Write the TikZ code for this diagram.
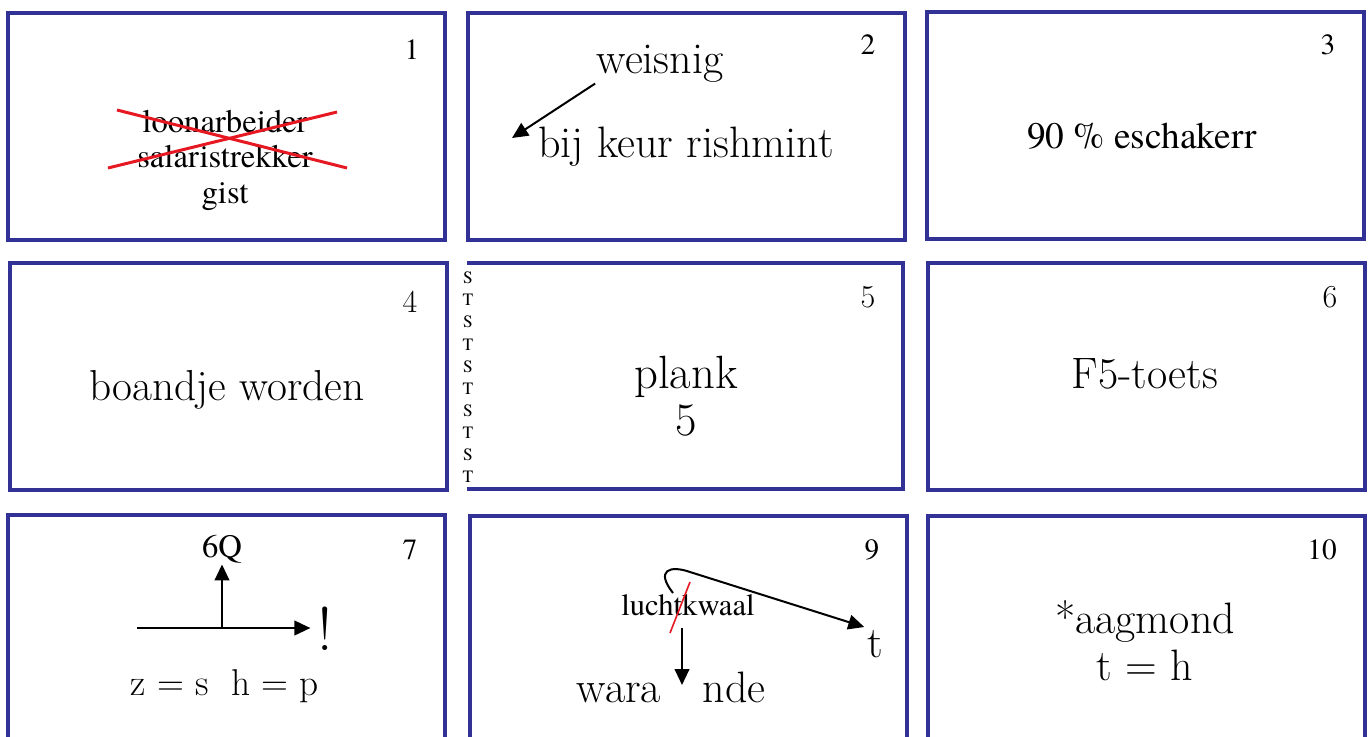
\documentclass[tikz,border=0pt]{standalone}
\usepackage{fontspec}
\usepackage{xcolor}
\usepackage{tikz}
\usetikzlibrary{arrows.meta,positioning,calc}
\newfontfamily\tnr{texgyretermes-regular.otf}
\definecolor{cardblue}{RGB}{50,50,150}
\definecolor{strikered}{RGB}{230,25,35}

\begin{document}
\begin{tikzpicture}[x=0.75pt, y=-0.75pt,
        card/.style={rectangle, draw=cardblue, line width=3pt,
                     minimum width=327.75pt, minimum height=170.25pt, inner sep=0pt},
        cardnum/.style={font=\tnr\fontsize{22}{24}\selectfont, inner sep=0pt},
        cardnumlm/.style={font=\fontsize{24}{26}\selectfont, inner sep=0pt},
        word/.style={font=\fontsize{33}{36}\selectfont, anchor=base, inner sep=1pt},
        tword/.style={font=\tnr\fontsize{24.5}{27}\selectfont, anchor=base, inner sep=1pt},
        arr/.style={-{Triangle[length=12pt,width=11pt]}, line width=1.5pt},
        strike/.style={strikered, line width=2.25pt}
    ]
    \clip (0,0) rectangle (1370,736);

    %% ── Row 1 ───────────────────────────────────────────────────────────────
    \node[card] (c1) at (226.5,126.5) {};
    \node[cardnum] (n1) at (412,50) {1};
    \node[tword] (loon)    at (225,132) {loonarbeider};
    \node[tword] (salaris) at (225,167) {salaristrekker};
    \node[tword] (gist)    at (225,203) {gist};
    \draw[strike] (117,110) -- (347,168);
    \draw[strike] (108,168) -- (337,112);

    \node[card] (c2) at (686.5,126.5) {};
    \node[cardnum] (n2) at (868,45) {2};
    \node[word] (weis) at (660,73)  {weisnig};
    \node[word] (keur) at (686,157) {bij keur rishmint};
    \coordinate (keurtip) at (512,138);
    \draw[arr] (weis.south west) -- (keurtip);

    \node[card] (c3) at (1145,125.5) {};
    \node[cardnum] (n3) at (1328,45) {3};
    \node[font=\tnr\fontsize{28}{30}\selectfont, anchor=base] (esch) at (1142,148)
        {90 \% eschakerr};

    %% ── Row 2 ───────────────────────────────────────────────────────────────
    \node[card] (c4) at (228,376.5) {};
    \node[cardnumlm] (n4) at (410,302) {4};
    \node[word, font=\fontsize{32.5}{34}\selectfont] (boandje) at (227,400) {boandje worden};

    %% card 5 is open on the left, the S/T column stands in for that side
    \draw[cardblue, line width=3pt] (467,263) -| (903,489) -- (467,489);
    \node[cardnumlm] (n5) at (868,297) {5};
    \foreach \i/\c in {0/S,1/T,2/S,3/T,4/S,5/T,6/S,7/T,8/S,9/T}
        \node[font=\tnr\fontsize{13}{14}\selectfont, inner sep=0pt] (st\i)
            at (468,{278+22.1*\i}) {\c};
    \node[word, font=\fontsize{35}{37}\selectfont] (plank) at (686,388) {plank};
    \node[word, font=\fontsize{35}{37}\selectfont] (five)  at (686,435) {5};

    \node[card] (c6) at (1146,376.5) {};
    \node[cardnumlm] (n6) at (1330,297) {6};
    \node[word] (toets) at (1145,388) {F5-toets};

    %% ── Row 3 ───────────────────────────────────────────────────────────────
    \node[card] (c7) at (226,628.5) {};
    \node[cardnum] (n7) at (410,550) {7};
    \node[tword] (sixq) at (222,557) {6Q};
    \node[font=\fontsize{46}{48}\selectfont, anchor=base, inner sep=5pt] (bang) at (325,650) {!};
    \coordinate (hstart) at (137,628);
    \coordinate (hcross) at (222,628);
    \draw[arr] (hstart) -- (hstart -| bang.west);
    \draw[arr] (hcross) -- (sixq.south);
    \node[word, font=\fontsize{28}{30}\selectfont] (zs) at (225,695) {z = s\ \ h = p};

    \node[card] (c9) at (688.5,629.5) {};
    \node[cardnum] (n9) at (872,550) {9};
    \node[font=\tnr\fontsize{23}{25}\selectfont, anchor=base, inner sep=1pt] (lk) at (688,615)
        {luchtkwaal};
    \draw[strikered, line width=1.2pt] (670,633) -- (690,582);
    \node[word, inner sep=2pt] (tt) at (875,657) {t};
    \coordinate (curl) at (673,593);
    \draw[arr] (curl) .. controls (655,570) and (670,565) .. (690,572) -- (tt.north west);
    \node[word] (wara) at (619,702) {wara};
    \node[word] (nde)  at (734,702) {nde};
    \coordinate (drop) at (682,628);
    \coordinate (gap)  at (682,685);
    \draw[arr] (drop) -- (gap);

    \node[card] (c10) at (1146.5,629.5) {};
    \node[cardnum] (n10) at (1322,550) {10};
    \node[word] (aag) at (1145,633) {*aagmond};
    \node[word] (th)  at (1145,680) {t = h};

\end{tikzpicture}
\end{document}
